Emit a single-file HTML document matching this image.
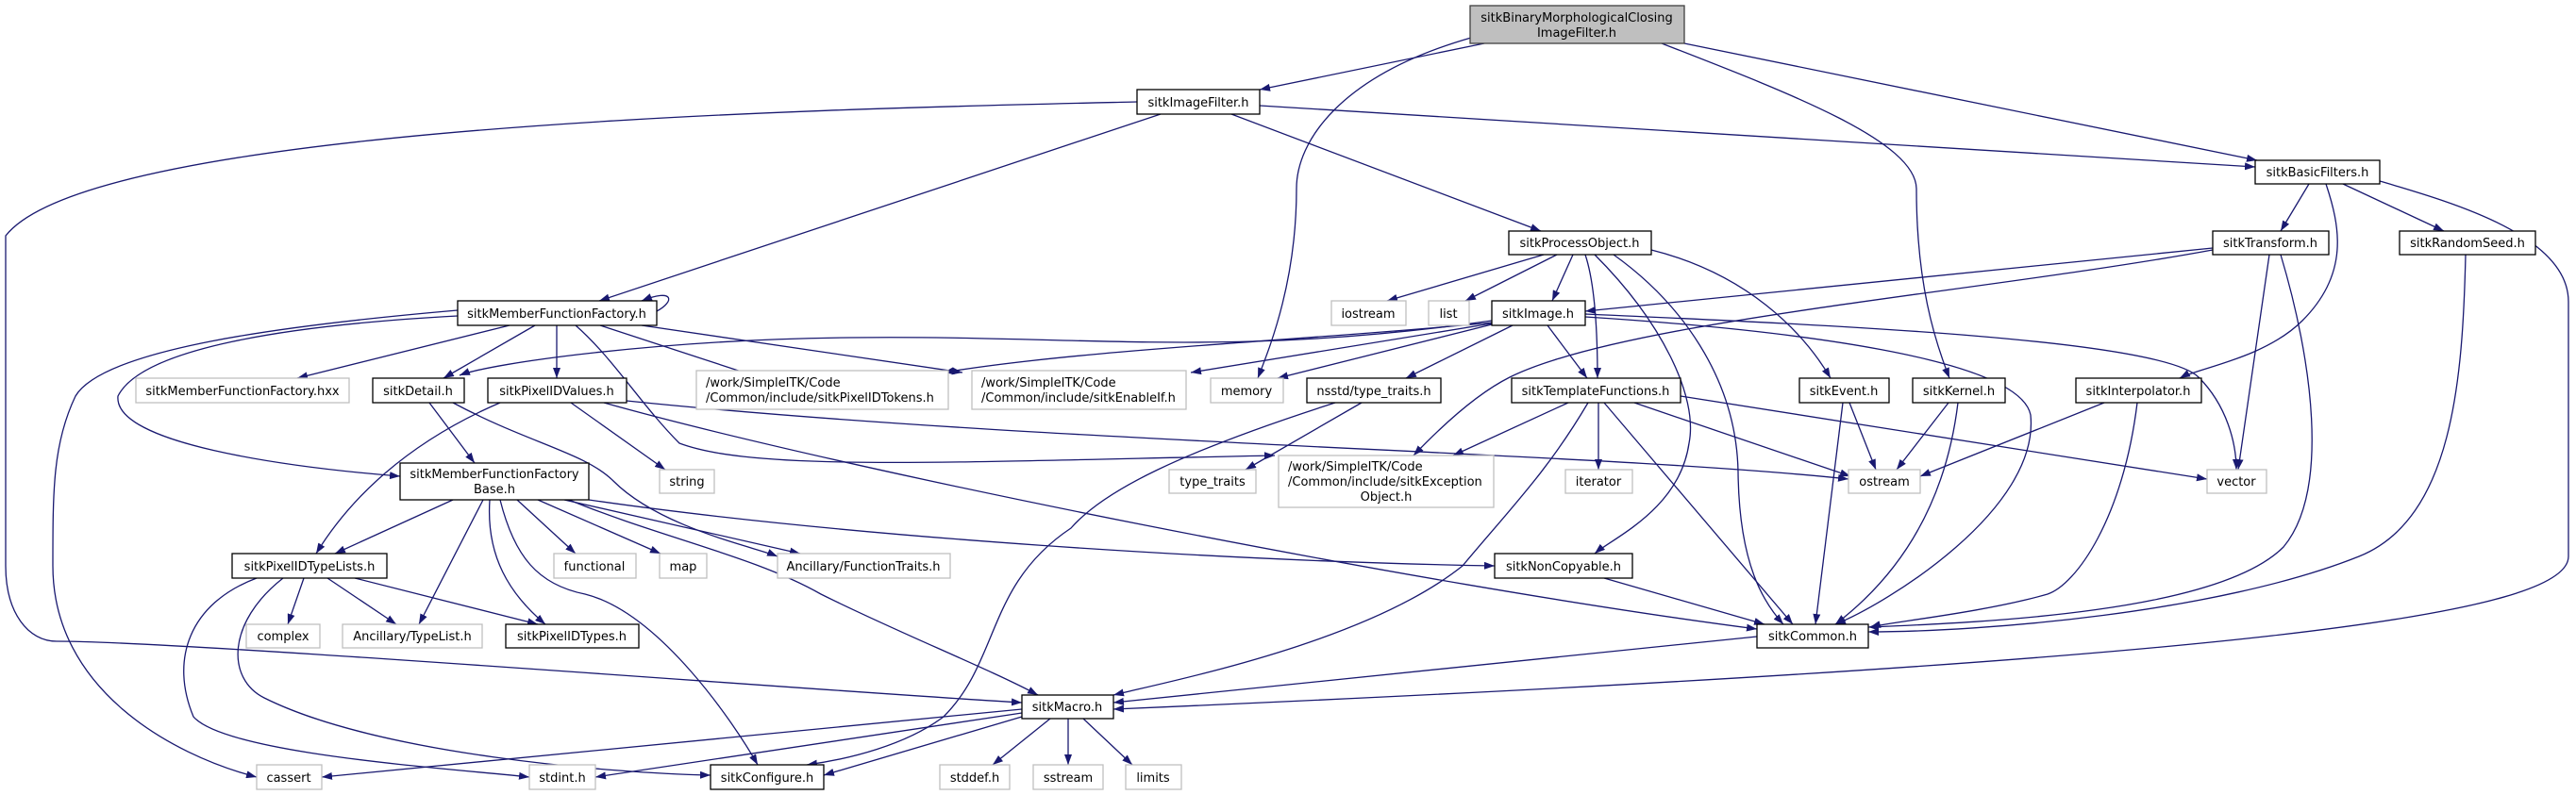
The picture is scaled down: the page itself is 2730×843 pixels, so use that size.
<!DOCTYPE html>
<html><head><meta charset="utf-8"><style>
html,body{margin:0;padding:0;background:#fff;}
svg{display:block;}
text{font-family:"DejaVu Sans","Liberation Sans",sans-serif;font-size:13px;fill:#000;text-anchor:middle;}
.n{fill:#fff;stroke:#000;stroke-width:1.3;}
.g{fill:#fff;stroke:#bfbfbf;stroke-width:1.3;}
.e{fill:none;stroke:#191970;stroke-width:1.3;}
</style></head><body>
<svg width="2730" height="843" viewBox="0 0 2730 843" xmlns="http://www.w3.org/2000/svg">
<defs><marker id="a" markerUnits="userSpaceOnUse" markerWidth="11" markerHeight="8" refX="11" refY="4" orient="auto"><path d="M0,0 L11,4 L0,8 z" fill="#191970"/></marker></defs>
<g marker-end="url(#a)">
<path class="e" d="M1573,46 L1335,95"/>
<path class="e" d="M1559,40 C1420,80 1374,150 1374,200 C1374,300 1345,370 1333,401"/>
<path class="e" d="M1785,46 L2392,170"/>
<path class="e" d="M1761,46 C1900,100 2030,150 2031,200 C2031,300 2050,360 2066,401"/>
<path class="e" d="M1205,108 C900,115 100,130 6,250 L6,600 C6,650 30,680 60,680 C200,680 900,735 1083,745"/>
<path class="e" d="M1230,121 L635,319"/>
<path class="e" d="M1305,121 L1633,245"/>
<path class="e" d="M1335,112 L2390,177"/>
<path class="e" d="M2447,195 L2417,245"/>
<path class="e" d="M2483,195 L2590,245"/>
<path class="e" d="M2465,195 C2480,240 2490,290 2440,340 C2400,380 2330,390 2310,401"/>
<path class="e" d="M2522,192 C2600,215 2722,250 2722,320 L2722,590 C2722,650 2400,700 1180,752"/>
<path class="e" d="M2345,263 L1680,330"/>
<path class="e" d="M2345,265 C2100,310 1720,340 1600,400 C1560,420 1520,460 1498,483"/>
<path class="e" d="M2405,270 L2372,498"/>
<path class="e" d="M2417,270 C2450,380 2470,520 2420,580 C2350,650 2100,660 1980,665"/>
<path class="e" d="M2613,270 C2610,400 2600,550 2500,590 C2350,650 2100,670 1980,670"/>
<path class="e" d="M1636,270 L1470,319"/>
<path class="e" d="M1650,270 L1553,319"/>
<path class="e" d="M1667,270 L1645,319"/>
<path class="e" d="M1680,270 C1690,300 1693,350 1693,401"/>
<path class="e" d="M1690,270 C1760,340 1800,420 1790,470 C1780,540 1710,570 1690,587"/>
<path class="e" d="M1710,270 C1780,320 1840,400 1842,500 C1843,600 1870,640 1890,662"/>
<path class="e" d="M1750,265 C1850,290 1910,350 1940,401"/>
<path class="e" d="M1581,340 C1300,380 1150,355 900,358 C700,360 520,385 487,398"/>
<path class="e" d="M1581,342 C1400,360 1150,370 1000,395"/>
<path class="e" d="M1581,343 L1262,395"/>
<path class="e" d="M1581,344 L1354,401"/>
<path class="e" d="M1603,345 L1490,401"/>
<path class="e" d="M1640,345 L1682,401"/>
<path class="e" d="M1680,333 C1950,345 2290,360 2330,400 C2360,430 2370,470 2370,498"/>
<path class="e" d="M1680,336 C1900,350 2140,380 2152,440 C2162,540 2000,640 1945,662"/>
<path class="e" d="M485,335 C300,345 150,370 125,420 C120,470 300,495 424,505"/>
<path class="e" d="M485,329 C300,345 110,370 80,420 C56,470 56,520 56,600 C56,730 180,800 272,824"/>
<path class="e" d="M540,345 L315,401"/>
<path class="e" d="M567,345 L470,401"/>
<path class="e" d="M590,345 L590,401"/>
<path class="e" d="M636,345 L807,401"/>
<path class="e" d="M680,345 L1020,395"/>
<path class="e" d="M610,345 C650,380 680,430 720,470 C800,500 1000,490 1351,483"/>
<path class="e" d="M696,330 C715,320 715,305 680,319" />
<path class="e" d="M455,427 L503,491"/>
<path class="e" d="M480,427 C560,470 620,480 650,510 C700,560 800,580 824,590"/>
<path class="e" d="M530,427 C430,470 370,530 335,587"/>
<path class="e" d="M605,427 L705,498"/>
<path class="e" d="M640,427 C900,500 1500,620 1862,667"/>
<path class="e" d="M664,425 C1100,470 1700,480 1959,508"/>
<path class="e" d="M480,530 L355,587"/>
<path class="e" d="M512,530 L444,662"/>
<path class="e" d="M519,530 C515,590 540,630 578,662"/>
<path class="e" d="M530,530 C545,590 570,620 620,630 C700,650 780,770 803,811"/>
<path class="e" d="M548,530 L610,587"/>
<path class="e" d="M570,530 L700,587"/>
<path class="e" d="M598,530 L848,587"/>
<path class="e" d="M624,530 C900,570 1300,595 1584,600"/>
<path class="e" d="M603,530 C700,570 800,590 870,630 C950,670 1050,710 1100,737"/>
<path class="e" d="M322,613 L305,662"/>
<path class="e" d="M347,613 L420,662"/>
<path class="e" d="M376,613 L570,662"/>
<path class="e" d="M272,613 C200,640 180,700 205,760 C240,800 480,815 561,824"/>
<path class="e" d="M300,613 C240,660 240,720 280,740 C400,800 650,820 753,822"/>
<path class="e" d="M1700,613 L1870,662"/>
<path class="e" d="M1662,427 L1540,483"/>
<path class="e" d="M1694,427 L1694,498"/>
<path class="e" d="M1683,427 C1640,500 1600,540 1550,600 C1450,680 1250,720 1180,737"/>
<path class="e" d="M1700,427 L1900,662"/>
<path class="e" d="M1732,427 L1961,505"/>
<path class="e" d="M1781,420 L2339,508"/>
<path class="e" d="M1443,427 L1320,498"/>
<path class="e" d="M1415,427 C1250,480 1170,520 1135,560 C1045,620 1060,700 1000,760 C960,790 900,805 855,811"/>
<path class="e" d="M1960,427 L1988,498"/>
<path class="e" d="M1953,427 L1924,662"/>
<path class="e" d="M2065,427 L2010,498"/>
<path class="e" d="M2075,427 C2060,550 2000,620 1945,662"/>
<path class="e" d="M2230,427 L2035,505"/>
<path class="e" d="M2265,427 C2250,550 2200,620 2170,630 C2100,650 2000,660 1982,665"/>
<path class="e" d="M1862,675 L1180,745"/>
<path class="e" d="M1083,752 L341,824"/>
<path class="e" d="M1083,756 L631,824"/>
<path class="e" d="M1083,760 L873,822"/>
<path class="e" d="M1113,762 L1052,811"/>
<path class="e" d="M1132,762 L1132,811"/>
<path class="e" d="M1148,762 L1200,811"/>
</g>
<rect x="1558" y="6" width="227" height="40" fill="#bfbfbf" stroke="#404040" stroke-width="1.3"/>
<text x="1671" y="23">sitkBinaryMorphologicalClosing</text><text x="1671" y="39">ImageFilter.h</text>
<rect class="n" x="1205" y="95" width="130" height="26"/><text x="1270" y="113">sitkImageFilter.h</text>
<rect class="n" x="2390" y="170" width="132" height="25"/><text x="2456" y="187">sitkBasicFilters.h</text>
<rect class="n" x="2345" y="245" width="123" height="25"/><text x="2406" y="262">sitkTransform.h</text>
<rect class="n" x="2543" y="245" width="144" height="25"/><text x="2615" y="262">sitkRandomSeed.h</text>
<rect class="n" x="1599" y="245" width="151" height="25"/><text x="1674" y="262">sitkProcessObject.h</text>
<rect class="n" x="485" y="319" width="211" height="26"/><text x="590" y="337">sitkMemberFunctionFactory.h</text>
<rect class="g" x="1411" y="319" width="79" height="26"/><text x="1450" y="337">iostream</text>
<rect class="g" x="1514" y="319" width="43" height="26"/><text x="1535" y="337">list</text>
<rect class="n" x="1581" y="319" width="99" height="26"/><text x="1630" y="337">sitkImage.h</text>
<rect class="g" x="144" y="401" width="226" height="26"/><text x="257" y="419">sitkMemberFunctionFactory.hxx</text>
<rect class="n" x="395" y="401" width="97" height="26"/><text x="443" y="419">sitkDetail.h</text>
<rect class="n" x="517" y="401" width="147" height="26"/><text x="590" y="419">sitkPixelIDValues.h</text>
<rect class="g" x="738" y="393" width="267" height="41"/><text x="748" y="410" style="text-anchor:start">/work/SimpleITK/Code</text><text x="748" y="426" style="text-anchor:start">/Common/include/sitkPixelIDTokens.h</text>
<rect class="g" x="1030" y="393" width="227" height="41"/><text x="1040" y="410" style="text-anchor:start">/work/SimpleITK/Code</text><text x="1040" y="426" style="text-anchor:start">/Common/include/sitkEnableIf.h</text>
<rect class="g" x="1283" y="401" width="77" height="26"/><text x="1321" y="419">memory</text>
<rect class="n" x="1385" y="401" width="142" height="26"/><text x="1456" y="419">nsstd/type_traits.h</text>
<rect class="n" x="1602" y="401" width="179" height="26"/><text x="1691" y="419">sitkTemplateFunctions.h</text>
<rect class="n" x="1907" y="401" width="95" height="26"/><text x="1954" y="419">sitkEvent.h</text>
<rect class="n" x="2027" y="401" width="98" height="26"/><text x="2076" y="419">sitkKernel.h</text>
<rect class="n" x="2200" y="401" width="133" height="26"/><text x="2266" y="419">sitkInterpolator.h</text>
<rect class="n" x="424" y="491" width="200" height="39"/><text x="524" y="507">sitkMemberFunctionFactory</text><text x="524" y="523">Base.h</text>
<rect class="g" x="699" y="498" width="58" height="25"/><text x="728" y="515">string</text>
<rect class="g" x="1239" y="498" width="92" height="25"/><text x="1285" y="515">type_traits</text>
<rect class="g" x="1355" y="483" width="228" height="55"/><text x="1365" y="499" style="text-anchor:start">/work/SimpleITK/Code</text><text x="1365" y="515" style="text-anchor:start">/Common/include/sitkException</text><text x="1469" y="531">Object.h</text>
<rect class="g" x="1659" y="498" width="71" height="25"/><text x="1694" y="515">iterator</text>
<rect class="g" x="1959" y="498" width="76" height="25"/><text x="1997" y="515">ostream</text>
<rect class="g" x="2339" y="498" width="63" height="25"/><text x="2370" y="515">vector</text>
<rect class="n" x="246" y="587" width="164" height="26"/><text x="328" y="605">sitkPixelIDTypeLists.h</text>
<rect class="g" x="587" y="587" width="87" height="26"/><text x="630" y="605">functional</text>
<rect class="g" x="699" y="587" width="50" height="26"/><text x="724" y="605">map</text>
<rect class="g" x="824" y="587" width="183" height="26"/><text x="915" y="605">Ancillary/FunctionTraits.h</text>
<rect class="n" x="1584" y="587" width="146" height="26"/><text x="1657" y="605">sitkNonCopyable.h</text>
<rect class="g" x="261" y="662" width="78" height="25"/><text x="300" y="679">complex</text>
<rect class="g" x="363" y="662" width="148" height="25"/><text x="437" y="679">Ancillary/TypeList.h</text>
<rect class="n" x="536" y="662" width="141" height="25"/><text x="606" y="679">sitkPixelIDTypes.h</text>
<rect class="n" x="1862" y="662" width="118" height="25"/><text x="1921" y="679">sitkCommon.h</text>
<rect class="n" x="1083" y="737" width="97" height="25"/><text x="1131" y="754">sitkMacro.h</text>
<rect class="g" x="272" y="811" width="69" height="26"/><text x="306" y="829">cassert</text>
<rect class="g" x="561" y="811" width="70" height="26"/><text x="596" y="829">stdint.h</text>
<rect class="n" x="753" y="811" width="120" height="26"/><text x="813" y="829">sitkConfigure.h</text>
<rect class="g" x="996" y="811" width="74" height="26"/><text x="1033" y="829">stddef.h</text>
<rect class="g" x="1095" y="811" width="74" height="26"/><text x="1132" y="829">sstream</text>
<rect class="g" x="1193" y="811" width="59" height="26"/><text x="1222" y="829">limits</text>
</svg>
</body></html>
